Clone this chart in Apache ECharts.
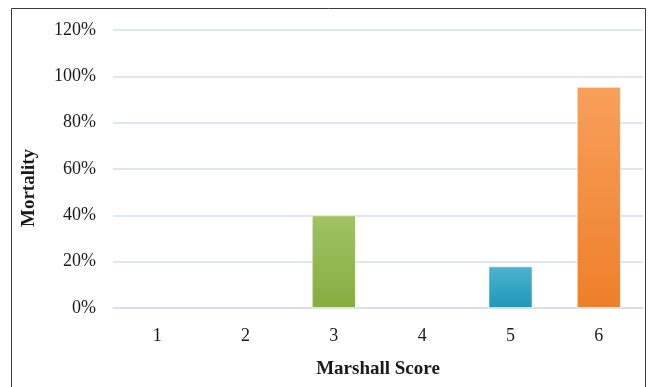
<!DOCTYPE html>
<html>
<head>
<meta charset="utf-8">
<script src="https://cdn.jsdelivr.net/npm/echarts@6/dist/echarts.min.js"></script>
<style>
  html, body { margin: 0; padding: 0; background: #fff; }
  #chart { width: 657px; height: 387px; }
</style>
</head>
<body>
<div id="chart"></div>
<script>
// Mortality by Marshall CT score
const scores = ['1', '2', '3', '4', '5', '6'];
const mortality = [0, 0, 40, 0, 18, 95.5];
const yTicks = [0, 20, 40, 60, 80, 100, 120];
const xTitle = 'Marshall Score';
const yTitle = 'Mortality';

// Per-bar gradient colours (top, bottom)
const barColors = [
  null, null,
  ['#a0c264', '#86ad3f'],
  null,
  ['#4cb3cf', '#1f98b9'],
  ['#f8a05a', '#ee7f2a']
];

const chart = echarts.init(document.getElementById('chart'));
const serif = '"Liberation Serif", "Times New Roman", serif';
const textColor = '#1a1a1a';

chart.setOption({
  animation: false,
  backgroundColor: '#fff',
  graphic: [
    {
      type: 'rect',
      shape: { x: 11.5, y: 8.5, width: 634, height: 400 },
      style: { fill: 'none', stroke: '#3a3a3a', lineWidth: 1 },
      silent: true
    },
    {
      type: 'text',
      x: 378, y: 369,
      style: {
        text: xTitle, fontFamily: serif, fontSize: 19, fontWeight: 'bold',
        fill: textColor, align: 'center', verticalAlign: 'middle'
      },
      silent: true
    },
    {
      type: 'text',
      x: 29, y: 188,
      rotation: Math.PI / 2,
      style: {
        text: yTitle, fontFamily: serif, fontSize: 19, fontWeight: 'bold',
        fill: textColor, align: 'center', verticalAlign: 'middle'
      },
      silent: true
    }
  ],
  grid: { left: 113, right: 14, top: 30, bottom: 79 },
  xAxis: {
    type: 'category',
    data: scores,
    axisLine: { show: true, lineStyle: { color: '#d6deea', width: 1.5 } },
    axisTick: { show: false },
    axisLabel: { fontFamily: serif, fontSize: 18, color: textColor, margin: 19 }
  },
  yAxis: {
    type: 'value',
    min: 0,
    max: 120,
    interval: 20,
    axisLine: { show: false },
    axisTick: { show: false },
    splitLine: { lineStyle: { color: '#d6deea', width: 1.5 } },
    axisLabel: {
      fontFamily: serif, fontSize: 18, color: textColor, margin: 17,
      formatter: v => yTicks.includes(v) ? v + '%' : ''
    }
  },
  series: [{
    type: 'bar',
    barWidth: '50%',
    data: mortality.map((v, i) => ({
      value: v,
      itemStyle: barColors[i] ? {
        color: new echarts.graphic.LinearGradient(0, 0, 0, 1, [
          { offset: 0, color: barColors[i][0] },
          { offset: 1, color: barColors[i][1] }
        ]),
        borderColor: 'rgba(255,255,255,0.6)',
        borderWidth: 1
      } : {}
    }))
  }]
});
</script>
</body>
</html>
